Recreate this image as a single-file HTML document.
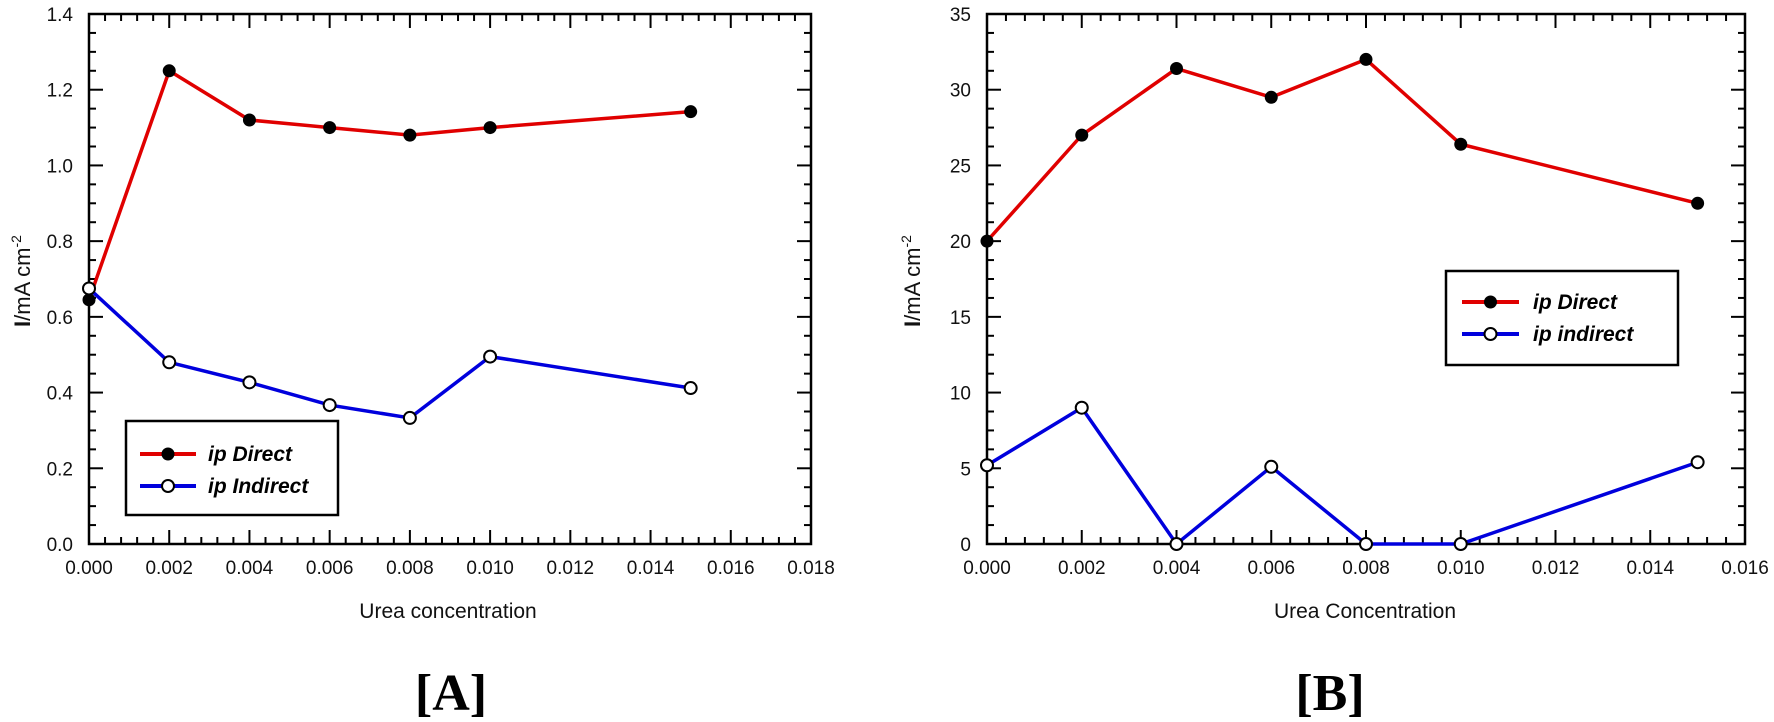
<!DOCTYPE html>
<html><head><meta charset="utf-8"><style>
html,body{margin:0;padding:0;background:#fff;}
svg{display:block;}
.t{font-family:"Liberation Sans",Arial,sans-serif;}
.serif{font-family:"Liberation Serif","Times New Roman",serif;}
</style></head><body>
<svg id="s" width="1774" height="722" xmlns="http://www.w3.org/2000/svg"></svg>
<script>
const s=document.getElementById('s');let h='';
function panel(L,R,T,B,xmax,xstep,xminor,ymax,ystep,yminor,yfmt,d1,d2,leg,lab2,xt,yl,xtitle){
  const X=v=>L+(R-L)*v/xmax, Y=v=>B-(B-T)*v/ymax;
  h+=`<rect x="${L}" y="${T}" width="${R-L}" height="${B-T}" fill="none" stroke="#000" stroke-width="2.5"/>`;
  let nx=Math.round(xmax/xminor);
  for(let i=0;i<=nx;i++){const v=i*xminor,x=X(v);const maj=Math.abs(v/xstep-Math.round(v/xstep))<1e-6;const l=maj?14:7;
    h+=`<line x1="${x}" y1="${B}" x2="${x}" y2="${B-l}" stroke="#000" stroke-width="2"/><line x1="${x}" y1="${T}" x2="${x}" y2="${T+l}" stroke="#000" stroke-width="2"/>`;
    if(maj)h+=`<text class="t" x="${x}" y="${B+30}" font-size="19" text-anchor="middle" fill="#111">${v.toFixed(3)}</text>`;}
  let ny=Math.round(ymax/yminor);
  for(let i=0;i<=ny;i++){const v=i*yminor,y=Y(v);const maj=Math.abs(v/ystep-Math.round(v/ystep))<1e-6;const l=maj?14:7;
    h+=`<line x1="${L}" y1="${y}" x2="${L+l}" y2="${y}" stroke="#000" stroke-width="2"/><line x1="${R}" y1="${y}" x2="${R-l}" y2="${y}" stroke="#000" stroke-width="2"/>`;
    if(maj)h+=`<text class="t" x="${L-16}" y="${y+7}" font-size="19" text-anchor="end" fill="#111">${yfmt(v)}</text>`;}
  const xs=[0,0.002,0.004,0.006,0.008,0.010,0.015];
  const line=(d,c)=>`<polyline points="${d.map((v,i)=>X(xs[i])+','+Y(v)).join(' ')}" fill="none" stroke="${c}" stroke-width="3.5"/>`;
  h+=line(d1,'#e00000')+line(d2,'#0000dd');
  d1.forEach((v,i)=>h+=`<circle cx="${X(xs[i])}" cy="${Y(v)}" r="6.5" fill="#000"/>`);
  d2.forEach((v,i)=>h+=`<circle cx="${X(xs[i])}" cy="${Y(v)}" r="6" fill="#fff" stroke="#000" stroke-width="2"/>`);
  const [lx,ly,lw,lh,r1,r2,l1,l2,tx]=leg;
  h+=`<rect x="${lx}" y="${ly}" width="${lw}" height="${lh}" fill="#fff" stroke="#000" stroke-width="2.5"/>`;
  h+=`<line x1="${l1}" y1="${r1}" x2="${l2}" y2="${r1}" stroke="#e00000" stroke-width="4"/><circle cx="${(l1+l2)/2}" cy="${r1}" r="6.5" fill="#000"/>`;
  h+=`<line x1="${l1}" y1="${r2}" x2="${l2}" y2="${r2}" stroke="#0000dd" stroke-width="4"/><circle cx="${(l1+l2)/2}" cy="${r2}" r="6" fill="#fff" stroke="#000" stroke-width="2"/>`;
  h+=`<text class="t" x="${tx}" y="${r1+7}" font-size="21" font-style="italic" font-weight="bold">ip Direct</text>`;
  h+=`<text class="t" x="${tx}" y="${r2+7}" font-size="21" font-style="italic" font-weight="bold">${lab2}</text>`;
  h+=`<text class="t" x="${xt}" y="618" font-size="21" text-anchor="middle" fill="#111">${xtitle}</text>`;
  h+=`<text class="t" transform="translate(${yl},281) rotate(-90)" font-size="22" text-anchor="middle" fill="#111"><tspan font-weight="bold">I</tspan>/mA cm<tspan dy="-9" font-size="14">-2</tspan></text>`;
}
panel(89,811,14,544,0.018,0.002,0.0004,1.4,0.2,0.05,v=>v.toFixed(1),
 [0.645,1.25,1.12,1.10,1.08,1.10,1.142],[0.675,0.48,0.427,0.367,0.333,0.495,0.412],
 [126,421,212,94,454,486,140,196,208],'ip Indirect',448,30,'Urea concentration');
panel(987,1745,14,544,0.016,0.002,0.0004,35,5,1.25,v=>String(Math.round(v)),
 [20,27,31.4,29.5,32,26.4,22.5],[5.2,9,0,5.1,0,0,5.4],
 [1446,271,232,94,302,334,1462,1519,1533],'ip indirect',1365,920,'Urea Concentration');
h+=`<text class="serif" x="451" y="710" font-size="52" font-weight="bold" text-anchor="middle">[A]</text>`;
h+=`<text class="serif" x="1330" y="710" font-size="52" font-weight="bold" text-anchor="middle">[B]</text>`;
s.innerHTML=h;
</script>
</body></html>
